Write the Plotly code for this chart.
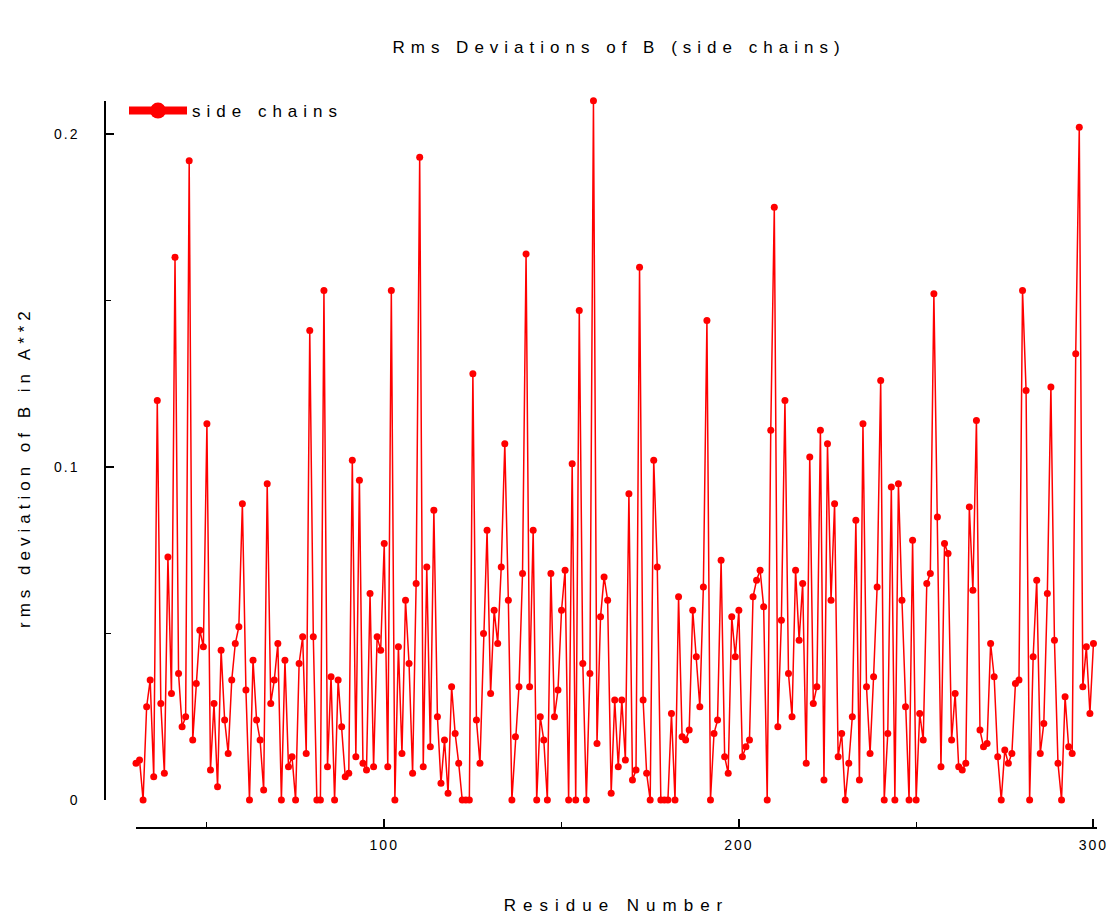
import plotly.graph_objects as go

# Residue numbers and rms deviation of B (side chains)
residues = list(range(30, 301))
rms_side_chains = [
    0.011, 0.012, 0.0, 0.028, 0.036, 0.007, 0.120, 0.029, 0.008, 0.073,   # 30-39
    0.032, 0.163, 0.038, 0.022, 0.025, 0.192, 0.018, 0.035, 0.051, 0.046,  # 40-49
    0.113, 0.009, 0.029, 0.004, 0.045, 0.024, 0.014, 0.036, 0.047, 0.052,  # 50-59
    0.089, 0.033, 0.0, 0.042, 0.024, 0.018, 0.003, 0.095, 0.029, 0.036,    # 60-69
    0.047, 0.0, 0.042, 0.010, 0.013, 0.0, 0.041, 0.049, 0.014, 0.141,      # 70-79
    0.049, 0.0, 0.0, 0.153, 0.010, 0.037, 0.0, 0.036, 0.022, 0.007,        # 80-89
    0.008, 0.102, 0.013, 0.096, 0.011, 0.009, 0.062, 0.010, 0.049, 0.045,  # 90-99
    0.077, 0.010, 0.153, 0.0, 0.046, 0.014, 0.060, 0.041, 0.008, 0.065,    # 100-109
    0.193, 0.010, 0.070, 0.016, 0.087, 0.025, 0.005, 0.018, 0.002, 0.034,  # 110-119
    0.020, 0.011, 0.0, 0.0, 0.0, 0.128, 0.024, 0.011, 0.050, 0.081,        # 120-129
    0.032, 0.057, 0.047, 0.070, 0.107, 0.060, 0.0, 0.019, 0.034, 0.068,    # 130-139
    0.164, 0.034, 0.081, 0.0, 0.025, 0.018, 0.0, 0.068, 0.025, 0.033,      # 140-149
    0.057, 0.069, 0.0, 0.101, 0.0, 0.147, 0.041, 0.0, 0.038, 0.210,        # 150-159
    0.017, 0.055, 0.067, 0.060, 0.002, 0.030, 0.010, 0.030, 0.012, 0.092,  # 160-169
    0.006, 0.009, 0.160, 0.030, 0.008, 0.0, 0.102, 0.070, 0.0, 0.0,        # 170-179
    0.0, 0.026, 0.0, 0.061, 0.019, 0.018, 0.021, 0.057, 0.043, 0.028,      # 180-189
    0.064, 0.144, 0.0, 0.020, 0.024, 0.072, 0.013, 0.008, 0.055, 0.043,    # 190-199
    0.057, 0.013, 0.016, 0.018, 0.061, 0.066, 0.069, 0.058, 0.0, 0.111,    # 200-209
    0.178, 0.022, 0.054, 0.120, 0.038, 0.025, 0.069, 0.048, 0.065, 0.011,  # 210-219
    0.103, 0.029, 0.034, 0.111, 0.006, 0.107, 0.060, 0.089, 0.013, 0.020,  # 220-229
    0.0, 0.011, 0.025, 0.084, 0.006, 0.113, 0.034, 0.014, 0.037, 0.064,    # 230-239
    0.126, 0.0, 0.020, 0.094, 0.0, 0.095, 0.060, 0.028, 0.0, 0.078,        # 240-249
    0.0, 0.026, 0.018, 0.065, 0.068, 0.152, 0.085, 0.010, 0.077, 0.074,    # 250-259
    0.018, 0.032, 0.010, 0.009, 0.011, 0.088, 0.063, 0.114, 0.021, 0.016,  # 260-269
    0.017, 0.047, 0.037, 0.013, 0.0, 0.015, 0.011, 0.014, 0.035, 0.036,    # 270-279
    0.153, 0.123, 0.0, 0.043, 0.066, 0.014, 0.023, 0.062, 0.124, 0.048,    # 280-289
    0.011, 0.0, 0.031, 0.016, 0.014, 0.134, 0.202, 0.034, 0.046, 0.026,    # 290-299
    0.047,                                                                 # 300
]
assert len(residues) == len(rms_side_chains)

x_tickvals = [100, 200, 300]
y_tickvals = [0, 0.1, 0.2]
y_ticktext = ["0", "0.1", "0.2"]

title_text = "Rms Deviations of B (side chains)"
x_title = "Residue Number"
y_title = "rms deviation of B in A**2"
series_name = "side chains"

RED = "#ff0000"
FONT = "Liberation Sans"
W, H = 1117, 917
ML, MR, MT, MB = 100, 15, 95, 85
PW, PH = W - ML - MR, H - MT - MB

def fx(px):  # paper fraction from pixel x
    return (px - ML) / PW

def fy(py):  # paper fraction from pixel y (top-down pixel)
    return (H - MB - py) / PH

fig = go.Figure()
fig.add_trace(go.Scatter(
    x=residues, y=rms_side_chains, mode="lines+markers",
    line=dict(color=RED, width=1.5),
    marker=dict(color=RED, size=7),
    cliponaxis=False, showlegend=False, name=series_name,
))
# legend entry (large symbol like the original)
fig.add_trace(go.Scatter(
    x=[None], y=[None], mode="lines+markers", name=series_name,
    line=dict(color=RED, width=8), marker=dict(color=RED, size=16),
))

fig.update_layout(
    width=W, height=H,
    margin=dict(l=ML, r=MR, t=MT, b=MB, autoexpand=False),
    paper_bgcolor="white", plot_bgcolor="white",
    font=dict(family=FONT, color="black", size=17),
    title=dict(text=title_text, x=619 / W, xref="container", xanchor="center",
               y=1 - 47 / H, yref="container", yanchor="middle",
               font=dict(size=17, family=FONT, color="black")),
    showlegend=True,
    legend=dict(x=fx(124), xref="paper", xanchor="left",
                y=fy(111), yref="paper", yanchor="middle",
                bgcolor="rgba(0,0,0,0)", borderwidth=0, itemwidth=58,
                font=dict(size=17, family=FONT, color="black")),
    xaxis=dict(
        domain=[fx(136), fx(1097)], range=[30, 301],
        anchor="free", position=fy(828),
        showline=True, linecolor="black", linewidth=1.5,
        showgrid=False, zeroline=False, automargin=False,
        tickmode="array", tickvals=x_tickvals,
        ticks="inside", ticklen=8, tickwidth=1.5, tickcolor="black",
        minor=dict(dtick=50, tick0=0, ticks="inside", ticklen=5, tickwidth=1.2, tickcolor="black", showgrid=False),
        tickfont=dict(size=14, family=FONT, color="black"),
        ticklabelstandoff=4,
        title=dict(text=x_title, standoff=47, font=dict(size=17, family=FONT, color="black")),
    ),
    yaxis=dict(
        domain=[fy(800), fy(100.7)], range=[0, 0.21],
        anchor="free", position=fx(105),
        showline=True, linecolor="black", linewidth=1.5,
        showgrid=False, zeroline=False, automargin=False,
        tickmode="array", tickvals=y_tickvals, ticktext=y_ticktext,
        ticks="inside", ticklen=8, tickwidth=1.5, tickcolor="black",
        minor=dict(dtick=0.05, tick0=0, ticks="inside", ticklen=5, tickwidth=1.2, tickcolor="black", showgrid=False),
        tickfont=dict(size=14, family=FONT, color="black"),
        ticklabelstandoff=22,
    ),
    annotations=[dict(
        text=y_title, textangle=-90, showarrow=False,
        x=fx(25), xref="paper", y=fy(467), yref="paper",
        xanchor="center", yanchor="middle",
        font=dict(size=17, family=FONT, color="black"),
    )],
)

post = """
var gd = document.getElementById('{plot_id}');
function sp(){
  gd.querySelectorAll('.gtitle, .legendtext').forEach(function(e){ e.style.letterSpacing='6px'; });
  gd.querySelectorAll('.xtitle').forEach(function(e){ e.style.letterSpacing='7px'; });
  gd.querySelectorAll('.annotation-text').forEach(function(e){ e.style.letterSpacing='5px'; });
  gd.querySelectorAll('.xtick text, .ytick text').forEach(function(e){ e.style.letterSpacing='2px'; });
  gd.querySelectorAll('.legend, .legend .scrollbox').forEach(function(e){ e.removeAttribute('clip-path'); e.style.clipPath='none'; });
}
sp();
gd.on('plotly_afterplot', sp);
"""
fig.write_html("out.html", post_script=post)
